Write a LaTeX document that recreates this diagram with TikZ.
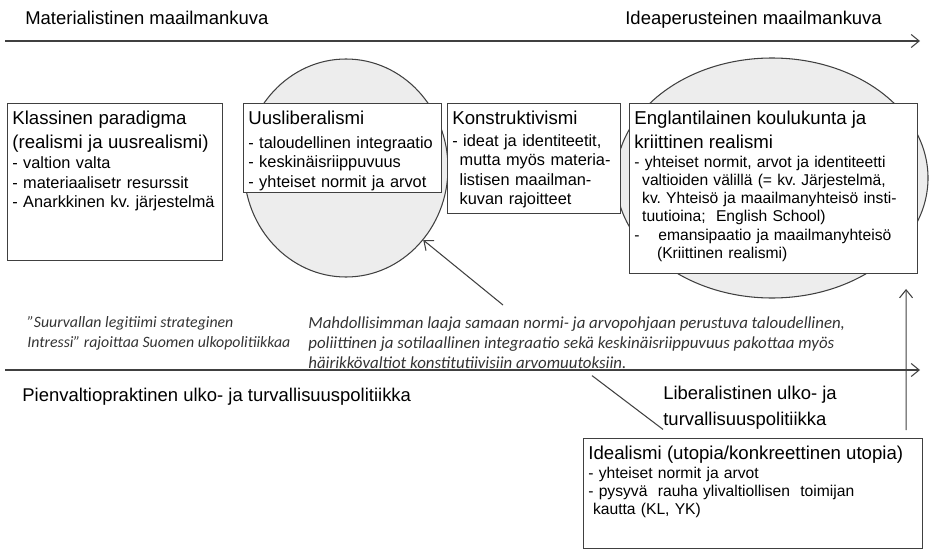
\documentclass[tikz,border=0pt]{standalone}
\usepackage{fontspec}
\setmainfont{Liberation Sans}
\newfontfamily\itfont{Carlito}
\usetikzlibrary{shapes.geometric,arrows.meta}
\definecolor{lgray}{HTML}{404040}
\definecolor{ellfill}{HTML}{EDEDED}
\definecolor{notegray}{HTML}{333333}
\newcommand{\headfont}{\fontsize{10.6}{13.7}\selectfont}
\frenchspacing

\begin{document}
\begin{tikzpicture}[>={Straight Barb[length=1.6mm,width=2.6mm]},
    conn/.style={draw=lgray,line width=0.6pt},
    frame/.style={draw=lgray,line width=0.6pt,fill=white,inner sep=0,anchor=north west},
    ell/.style={ellipse,draw=lgray,line width=0.6pt,fill=ellfill,inner sep=0},
    boxtxt/.style={anchor=north west,inner xsep=0.1cm,inner ysep=4.5pt,align=left,font=\fontsize{9.3}{10.9}\selectfont},
    smalltxt/.style={boxtxt,font=\fontsize{8.9}{10.4}\selectfont},
    big/.style={inner sep=0,font=\fontsize{10.5}{14.8}\selectfont},
    note/.style={inner sep=0,anchor=north west,align=left,text=notegray,font=\itfont\itshape\fontsize{9.6}{11.4}\selectfont}]
	  \useasboundingbox (0,0) rectangle (18.6,-11);
	  \coordinate (topl) at (0.1,-0.82);
	  \coordinate (topr) at (18.4,-0.82);
	  \coordinate (midl) at (0.1,-7.4);
	  \coordinate (midr) at (18.4,-7.4);
	  \draw[conn,->] (topl) -- (topr);
	  \draw[conn,->] (midl) -- (midr);
	  \node[big,anchor=base west] (matl) at (0.5,-0.49) {Materialistinen maailmankuva};
	  \node[big,anchor=base west] (idl) at (12.5,-0.49) {Ideaperusteinen maailmankuva};
	  \node[ell,minimum width=4.08cm,minimum height=4.36cm] (uusell) at (6.92,-3.36) {};
	  \node[ell,minimum width=6.24cm,minimum height=4.8cm] (englell) at (15.44,-3.56) {};
	  \node[frame,minimum width=4.3cm,minimum height=3.14cm] (klasbox) at (0.14,-2.06) {};
	  \node[frame,minimum width=3.96cm,minimum height=1.78cm] (uusbox) at (4.86,-2.06) {};
	  \node[frame,minimum width=3.46cm,minimum height=2.2cm] (konsbox) at (8.94,-2.06) {};
	  \node[frame,minimum width=5.76cm,minimum height=3.4cm] (englbox) at (12.58,-2.06) {};
	  \node[frame,minimum width=6.78cm,minimum height=2.2cm] (idealbox) at (11.66,-8.76) {};
	  \node[boxtxt,text width=4.1cm] (klas) at (klasbox.north west) {{\headfont Klassinen paradigma\\[2.8pt] (realismi ja uusrealismi)}\\[0.5pt]
	    - valtion valta\\ - materiaalisetr resurssit\\ - Anarkkinen kv. järjestelmä};
	  \node[boxtxt,text width=3.76cm] (uus) at (uusbox.north west) {{\headfont Uusliberalismi}\\[2.8pt]
	    - taloudellinen integraatio\\ - keskinäisriippuvuus\\ - yhteiset normit ja arvot};
	  \node[boxtxt,text width=3.26cm] (kons) at (konsbox.north west) {{\headfont Konstruktivismi}\\[1.6pt]
	    - ideat ja identiteetit,\\ \hspace*{0.45em}mutta myös materia-\\ \hspace*{0.45em}listisen maailman-\\ \hspace*{0.45em}kuvan rajoitteet};
	  \node[smalltxt,text width=5.56cm] (engl) at (englbox.north west) {{\headfont Englantilainen koulukunta ja\\[3.3pt] kriittinen realismi}\\
	    - yhteiset normit, arvot ja identiteetti\\ \hspace*{0.5em}valtioiden välillä (= kv. Järjestelmä,\\ \hspace*{0.5em}kv. Yhteisö ja maailmanyhteisö insti-\\
	    \hspace*{0.5em}tuutioina;\ \ English School)\\ -\hspace{1.2em}emansipaatio ja maailmanyhteisö\\ \hspace*{1.45em}(Kriittinen realismi)};
	  \node[smalltxt,text width=6.58cm] (ideal) at (idealbox.north west) {{\headfont Idealismi (utopia/konkreettinen utopia)}\\
	    - yhteiset normit ja arvot\\ - pysyvä\ \ rauha ylivaltiollisen\ \ toimijan\\ \hspace*{0.3em}kautta (KL, YK)};
	  \node[note,font=\itfont\itshape\fontsize{9}{11.4}\selectfont] (suur) at (0.54,-6.32) {”Suurvallan legitiimi strateginen\\ Intressi” rajoittaa Suomen ulkopolitiikkaa};
	  \node[note] (mahd) at (6.16,-6.32) {Mahdollisimman laaja samaan normi- ja arvopohjaan perustuva taloudellinen,\\
	    poliittinen ja sotilaallinen integraatio sekä keskinäisriippuvuus pakottaa myös\\ häirikkövaltiot konstitutiivisiin arvomuutoksiin.};
	  \node[big,anchor=base west] (pienl) at (0.44,-8.03) {Pienvaltiopraktinen ulko- ja turvallisuuspolitiikka};
	  \node[big,anchor=north west,align=left] (libl) at (13.26,-7.71) {Liberalistinen ulko- ja\\ turvallisuuspolitiikka};
	  \draw[conn,->] ([xshift=3.9cm,yshift=0.22cm]mahd.north west) -- (uusell.-43);
	  \draw[conn] ([xshift=5.68cm,yshift=-0.14cm]mahd.south west) -- (libl.south west);
	  \draw[conn,->,shorten <=4.5pt,shorten >=8.5pt] ([xshift=-0.34cm]idealbox.north east) -- ([xshift=-0.24cm]englbox.south east);
	\end{tikzpicture}
\end{document}
